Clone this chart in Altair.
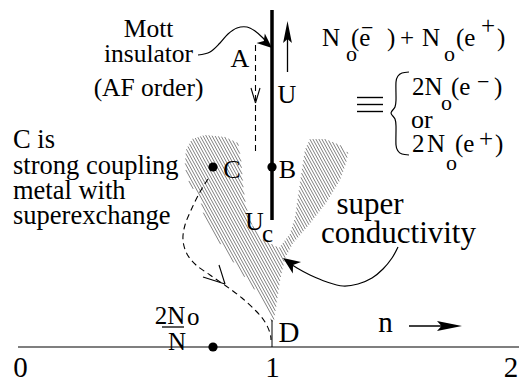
import altair as alt
import pandas as pd
import numpy as np

FONT = "Liberation Serif"

# ---------------- data (figure coordinates, y grows downward) ----------------
# horizontal n axis and its tick labels
AXIS_X = [18, 521]
AXIS_Y = [347, 347]
TICK_TEXT = ["0", "1", "2"]
TICK_X = [20.5, 272.5, 511]
TICK_Y = [377, 377, 377]

# phase-diagram points (C, B and 2No/N on the axis)
DOT_X = [213, 272, 213]
DOT_Y = [167, 167, 347]

# shaded superconducting region outline
HATCH_X = [272, 265, 255, 240, 226, 213, 203, 200, 190, 185, 186, 192, 205, 225, 238,
           241, 243, 246, 252, 262, 279, 290, 295, 298, 302, 305, 310, 325, 340, 348,
           346, 340, 326, 308, 293, 285, 280, 277, 274]
HATCH_Y = [322, 305, 290, 271, 252, 233, 212, 197, 185, 167, 150, 139, 135, 137, 143,
           160, 185, 207, 225, 239, 248, 234, 218, 197, 170, 150, 139, 139, 145, 153,
           163, 180, 203, 226, 243, 258, 280, 300, 320]

# dashed path from C down to D
CPATH_X = [208, 200, 192, 185, 183, 187, 196, 210, 226, 242, 256, 265, 270, 271]
CPATH_Y = [179, 192, 208, 225, 240, 254, 265, 275, 286, 298, 311, 322, 333, 340]

# curved pointer from "Mott insulator"
MOTT_X = [198, 210, 220, 228, 237, 247, 255, 263, 268]
MOTT_Y = [55, 52, 43, 34, 28, 27, 31, 38, 44]

# curved pointer from "super conductivity"
SC_X = [398, 392, 383, 372, 358, 343, 327, 310, 297, 288]
SC_Y = [247, 258, 269, 278, 284, 286, 282, 275, 268, 262]

# curly brace
BRACE_X = [409, 402, 398, 396, 396, 395, 391, 395, 396, 396, 398, 402, 409]
BRACE_Y = [72, 73, 76, 82, 100, 107, 113, 119, 126, 145, 151, 154, 155]

# straight segments: x, y, x2, y2, width
SEG_X = [18, 272, 272, 287.5, 409, 162, 357, 357, 357, 251, 260, 203, 219]
SEG_Y = [347, 10, 320, 35, 326, 327, 97.5, 104.5, 111.5, 88, 88, 277, 265]
SEG_X2 = [521, 272, 272, 287.5, 452, 184, 383, 383, 383, 255.5, 255.5, 225, 225]
SEG_Y2 = [347, 220, 347, 72, 326, 327, 97.5, 104.5, 111.5, 103, 103, 284, 284]
SEG_W = [1.2, 3.5, 1.0, 1.3, 1.3, 1.3, 1.4, 1.4, 1.4, 1.1, 1.1, 1.1, 1.1]

# dashed vertical path A -> below B
DSEG_X = [255.5]
DSEG_Y = [45]
DSEG_X2 = [255.5]
DSEG_Y2 = [155]

# filled arrowheads: tip x, tip y, angle, length
ARR_SLIM_X = [287.5, 462]
ARR_SLIM_Y = [21, 326]
ARR_SLIM_A = [0, 90]
ARR_SLIM_L = [22, 25]
ARR_WIDE_X = [272, 283]
ARR_WIDE_Y = [48, 258]
ARR_WIDE_A = [131, 305]
ARR_WIDE_L = [15, 17]

# text labels
MOTT_TEXT = ["Mott", "insulator", "(AF order)"]
MOTT_TX = [148.5, 148.5, 148.5]
MOTT_TY = [37, 62, 96]

CIS_TEXT = ["C is", "strong coupling", "metal  with", "superexchange"]
CIS_TX = [13, 13, 13, 13]
CIS_TY = [148, 174, 199, 224]

LET_TEXT = ["A", "U", "B", "C", "U"]
LET_TX = [240, 287, 287.5, 232, 254.5]
LET_TY = [67, 103, 178, 178, 230]

BIG_TEXT = ["D", "n"]
BIG_TX = [289, 385.5]
BIG_TY = [342, 332]

SC_TEXT = ["super", "conductivity"]
SC_TX = [370, 398.5]
SC_TY = [214, 243]

FRAC_TEXT = ["2N", "N"]
FRAC_TX = [170, 177]
FRAC_TY = [324, 350]

# formula pieces (left aligned), main size
F_TEXT = ["N", "(e", ")", "+", "N", "(e", ")",
          "2N", "(e", ")",
          "2", "N", "(e", ")", "c", "o"]
F_TX = [322, 351, 387, 400, 422, 456, 497,
        412, 451, 494,
        412, 427, 455, 495, 262, 187]
F_TY = [46, 46, 46, 46, 46, 46, 46,
        95, 95, 95,
        152, 152, 152, 152, 242, 325]
# subscripts / superscripts
S_TEXT = ["o", "\u2212", "o", "o", "\u2212", "o"]
S_TX = [346, 361, 444, 441, 477, 446]
S_TY = [61, 34.5, 61, 110, 89, 170]
P_TEXT = ["+", "+"]
P_TX = [481, 479]
P_TY = [34, 147]
OR_TEXT = ["or"]
OR_TX = [411]
OR_TY = [128]

# ---------------- scales ----------------
XS = alt.Scale(domain=[8, 519], nice=False, zero=False)
YS = alt.Scale(domain=[8, 384], nice=False, zero=False, reverse=True)
X = alt.X("x:Q", scale=XS, axis=None)
Y = alt.Y("y:Q", scale=YS, axis=None)


def hatch_segments(px, py, k=0.55, step=3.0):
    px = np.asarray(px, float)
    py = np.asarray(py, float)
    u = px - k * py
    rows = []
    n = len(px)
    for c in np.arange(u.min() + step / 2, u.max(), step):
        ys = []
        for i in range(n):
            j = (i + 1) % n
            a, b = u[i] - c, u[j] - c
            if (a < 0) != (b < 0):
                t = a / (a - b)
                ys.append(py[i] + t * (py[j] - py[i]))
        ys.sort()
        for y1, y2 in zip(ys[0::2], ys[1::2]):
            rows.append(dict(x=c + k * y1, y=y1, x2=c + k * y2, y2=y2))
    return pd.DataFrame(rows)


def text_layer(texts, xs, ys, size, align="center"):
    df = pd.DataFrame({"t": texts, "x": xs, "y": ys})
    return alt.Chart(df).mark_text(
        font=FONT, fontSize=size, align=align, baseline="alphabetic", color="black"
    ).encode(x=X, y=Y, text="t:N")


def curve_df(groups):
    rows = []
    for g, (xs, ys) in enumerate(groups):
        for i, (a, b) in enumerate(zip(xs, ys)):
            rows.append(dict(g=g, i=i, x=a, y=b))
    return pd.DataFrame(rows)


layers = []

# hatch
hdf = hatch_segments(HATCH_X, HATCH_Y, step=3.0)
layers.append(
    alt.Chart(hdf).mark_rule(color="#6a6a6a", strokeWidth=0.85).encode(
        x=X, y=Y, x2="x2:Q", y2="y2:Q"
    )
)

# straight solid segments
sdf = pd.DataFrame({"x": SEG_X, "y": SEG_Y, "x2": SEG_X2, "y2": SEG_Y2, "w": SEG_W})
layers.append(
    alt.Chart(sdf).mark_rule(color="black").encode(
        x=X, y=Y, x2="x2:Q", y2="y2:Q", strokeWidth=alt.StrokeWidth("w:Q", scale=None)
    )
)
# dashed segment
ddf = pd.DataFrame({"x": DSEG_X, "y": DSEG_Y, "x2": DSEG_X2, "y2": DSEG_Y2})
layers.append(
    alt.Chart(ddf).mark_rule(color="black", strokeWidth=1.1, strokeDash=[6, 4]).encode(
        x=X, y=Y, x2="x2:Q", y2="y2:Q"
    )
)

# solid curves
cdf = curve_df([(MOTT_X, MOTT_Y), (SC_X, SC_Y), (BRACE_X, BRACE_Y)])
layers.append(
    alt.Chart(cdf).mark_line(color="black", strokeWidth=1.2, interpolate="cardinal").encode(
        x=X, y=Y, detail="g:N", order="i:Q"
    )
)
# dashed curve
cpdf = curve_df([(CPATH_X, CPATH_Y)])
layers.append(
    alt.Chart(cpdf).mark_line(color="black", strokeWidth=1.1, strokeDash=[6, 4],
                              interpolate="cardinal").encode(
        x=X, y=Y, detail="g:N", order="i:Q"
    )
)

# arrowheads
SLIM = "M0,0 L0.2,1 L0,0.82 L-0.2,1 Z"
WIDE = "M0,0 L0.42,1 L0,0.72 L-0.42,1 Z"
for xs, ys, angs, lens, shape in [
    (ARR_SLIM_X, ARR_SLIM_Y, ARR_SLIM_A, ARR_SLIM_L, SLIM),
    (ARR_WIDE_X, ARR_WIDE_Y, ARR_WIDE_A, ARR_WIDE_L, WIDE),
]:
    adf = pd.DataFrame({"x": xs, "y": ys, "a": angs, "s": [(2 * l) ** 2 for l in lens]})
    layers.append(
        alt.Chart(adf).mark_point(shape=shape, filled=True, color="black", opacity=1,
                                  strokeWidth=0).encode(
            x=X, y=Y,
            angle=alt.Angle("a:Q", scale=None),
            size=alt.Size("s:Q", scale=None),
        )
    )

# dots
dot_df = pd.DataFrame({"x": DOT_X, "y": DOT_Y})
layers.append(
    alt.Chart(dot_df).mark_circle(size=85, color="black", opacity=1).encode(x=X, y=Y)
)

# texts
layers += [
    text_layer(TICK_TEXT, TICK_X, TICK_Y, 29),
    text_layer(MOTT_TEXT, MOTT_TX, MOTT_TY, 25.5),
    text_layer(CIS_TEXT, CIS_TX, CIS_TY, 26.5, "left"),
    text_layer(LET_TEXT, LET_TX, LET_TY, 26),
    text_layer(BIG_TEXT, BIG_TX, BIG_TY, 29),
    text_layer(SC_TEXT, SC_TX, SC_TY, 31),
    text_layer(FRAC_TEXT, FRAC_TX, FRAC_TY, 25),
    text_layer(F_TEXT, F_TX, F_TY, 25, "left"),
    text_layer(S_TEXT, S_TX, S_TY, 22, "left"),
    text_layer(P_TEXT, P_TX, P_TY, 25, "left"),
    text_layer(OR_TEXT, OR_TX, OR_TY, 26, "left"),
]

chart = alt.layer(*layers).properties(
    width=511, height=376, padding=0,
    autosize=alt.AutoSizeParams(type="none"),
    background="white",
).configure_view(stroke=None)

chart.save("out.html", embed_options={"renderer": "svg", "actions": False})
